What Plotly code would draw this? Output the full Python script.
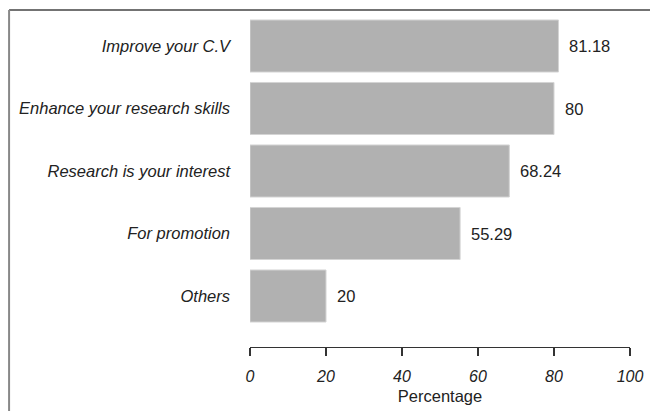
import plotly.graph_objects as go

categories = ["Others", "For promotion", "Research is your interest",
              "Enhance your research skills", "Improve your C.V"]
values = [20, 55.29, 68.24, 80, 81.18]
value_labels = ["20", "55.29", "68.24", "80", "81.18"]
x_ticks = [0, 20, 40, 60, 80, 100]

FONT = "Liberation Sans, Arial, sans-serif"

fig = go.Figure()
fig.add_trace(go.Bar(
    x=values, y=categories, orientation="h", width=0.833,
    marker=dict(color="#b1b1b1", line=dict(color="#d4d4d4", width=1)),
    hoverinfo="skip", cliponaxis=False,
))

for v, c, t in zip(values, categories, value_labels):
    fig.add_annotation(x=v, y=c, text=t, showarrow=False, xanchor="left",
                       xshift=9, font=dict(family=FONT, size=16.5, color="#222"))

fig.update_layout(
    width=650, height=411,
    margin=dict(l=250, r=20, t=10, b=64, autoexpand=False),
    paper_bgcolor="white", plot_bgcolor="white",
    showlegend=False,
    xaxis=dict(range=[0, 100], tickvals=x_ticks, ticktext=[f"<i>{v}</i>" for v in x_ticks],
               showline=True, linecolor="#333", linewidth=1.3,
               ticks="outside", ticklen=8, tickcolor="#333", tickwidth=1.3,
               showgrid=False, zeroline=False, automargin=False,
               ticklabelstandoff=6,
               tickfont=dict(family=FONT, size=16, color="#222"),
               title=dict(text="Percentage", font=dict(family=FONT, size=16.5, color="#222"),
                          standoff=7)),
    yaxis=dict(type="category", categoryorder="array", categoryarray=categories,
               range=[-0.816, 4.576], showline=False, showgrid=False, zeroline=False,
               ticks="", ticklabelstandoff=19, automargin=False,
               tickvals=categories, ticktext=[f"<i>{c}</i>" for c in categories],
               tickfont=dict(family=FONT, size=16.5, color="#222")),
)

# figure frame (top and left edges)
fig.add_shape(type="line", xref="paper", yref="paper", x0=-0.634, x1=1.06, y0=1.0, y1=1.0,
              line=dict(color="#444", width=1.5))
fig.add_shape(type="line", xref="paper", yref="paper", x0=-0.634, x1=-0.634, y0=1.0, y1=-0.2,
              line=dict(color="#888", width=2))

fig.write_html("out.html", config={"displayModeBar": False, "staticPlot": True},
               post_script="document.body.style.margin='0';document.body.style.padding='0';")
